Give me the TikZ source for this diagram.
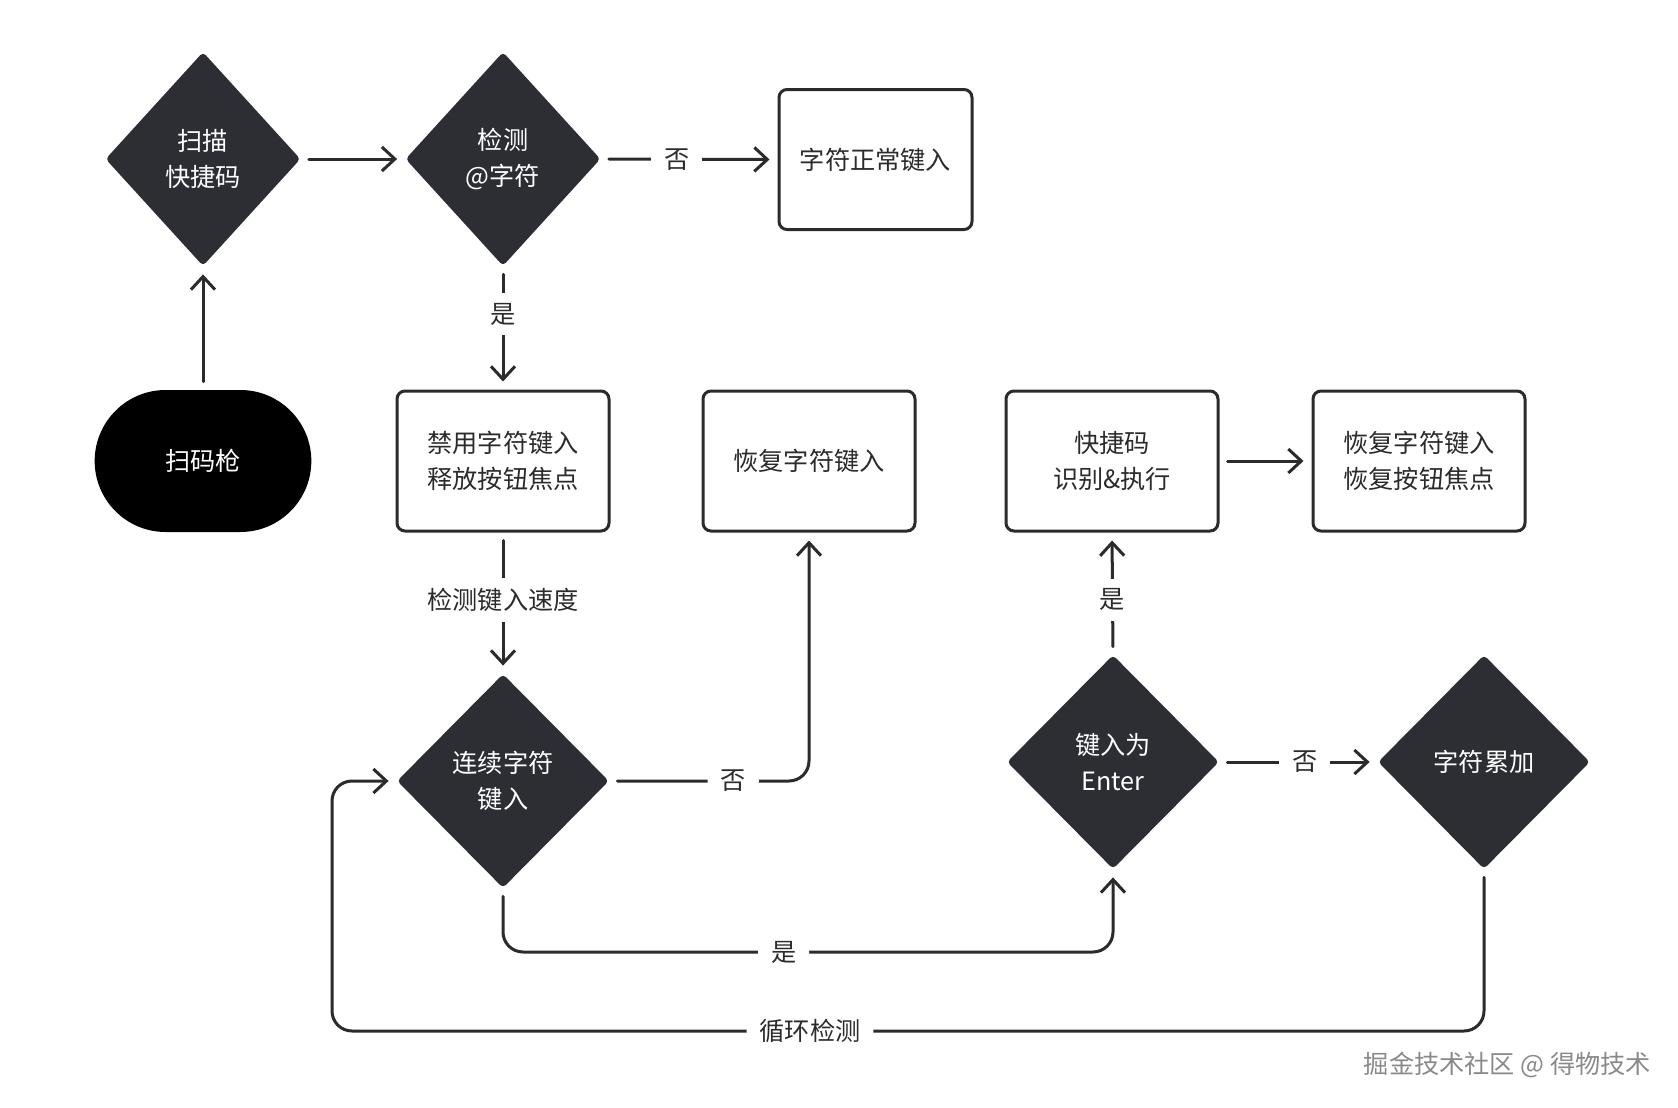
\documentclass[tikz,border=0pt]{standalone}
\usepackage{fontspec}
\setmainfont{Noto Sans CJK SC}
\usetikzlibrary{shapes.geometric,shapes.misc,arrows.meta}
\definecolor{ink}{HTML}{2B2B2B}
\definecolor{diafill}{HTML}{2C2E34}
\definecolor{wm}{HTML}{8A8A8A}
\begin{document}
\begin{tikzpicture}[x=0.5pt,y=-0.5pt,
  every node/.style={font=\fontsize{12.6pt}{18.3pt}\selectfont},
  conn/.style={draw=ink,line width=1.5pt,line cap=round,line join=round,shorten <=4pt,shorten >=4pt},
  arr/.style={-{Straight Barb[length=6.5pt,width=12pt]}},
  dia/.style={shape=diamond,fill=diafill,draw=none,text=white,inner sep=0pt,align=center,rounded corners=2pt},
  smalldia/.style={dia,minimum width=97.5pt,minimum height=107pt},
  bigdia/.style={dia,minimum width=106pt,minimum height=107pt},
  procbox/.style={shape=rectangle,draw=ink,line width=1.5pt,rounded corners=4pt,fill=white,text=ink,minimum width=106pt,minimum height=70pt,align=center},
  lbl/.style={fill=white,text=ink,inner xsep=6.5pt,inner ysep=5pt}]
\useasboundingbox (0,0) rectangle (1678,1108);
\fill[white] (0,0) rectangle (1678,1108);

\node[smalldia] (d1) at (203,159) {扫描\\快捷码};
\node[smalldia] (d2) at (503,159) {检测\\@字符};
\node[procbox,minimum width=96.5pt] (b1) at (875.5,159.5) {字符正常键入};
\node[shape=rounded rectangle,fill=black,text=white,minimum width=115pt,minimum height=71pt] (gun) at (203,461) {扫码枪};
\node[procbox] (b2) at (503,461) {禁用字符键入\\释放按钮焦点};
\node[procbox] (b3) at (809,461) {恢复字符键入};
\node[procbox] (b4) at (1112,461) {快捷码\\识别\&执行};
\node[procbox] (b5) at (1419,461) {恢复字符键入\\恢复按钮焦点};
\node[bigdia] (d3) at (503,781) {连续字符\\键入};
\node[bigdia] (d4) at (1113,762) {键入为\\Enter};
\node[bigdia] (d5) at (1484,762) {字符累加};

\coordinate (r1) at (0,952);
\coordinate (r2) at (332,1031);

\draw[conn,arr] (d1.east) -- (d2.west);
\draw[conn,arr] (gun.north) -- (d1.south);
\draw[conn,arr] (d2.east) -- node[lbl,pos=0.43]{否} (b1.west);
\draw[conn,arr] (d2.south) -- node[lbl,pos=0.39]{是} (b2.north);
\draw[conn,arr] (b2.south) -- node[lbl,pos=0.48]{检测键入速度} (d3.north);
\draw[conn,arr,rounded corners=10pt] (d3.east) -- node[lbl,pos=0.62]{否} (d3.east -| b3.south) -- (b3.south);
\draw[conn,arr,rounded corners=10pt] (d3.south) -- (d3.south |- r1) -- node[lbl,pos=0.46]{是} (d4.south |- r1) -- (d4.south);
\draw[conn,arr] (d4.north) -- node[lbl,pos=0.45]{是} (b4.south);
\draw[conn,arr] (b4.east) -- (b5.west);
\draw[conn,arr] (d4.east) -- node[lbl,pos=0.54]{否} (d5.west);
\draw[conn,arr,rounded corners=10pt] (d5.south) -- (d5.south |- r2) -- node[lbl,pos=0.585]{循环检测} (r2) -- (r2 |- d3.west) -- (d3.west);

\node[text=wm,anchor=east] (wmark) at (1658,1065) {掘金技术社区 @ 得物技术};
\end{tikzpicture}
\end{document}
